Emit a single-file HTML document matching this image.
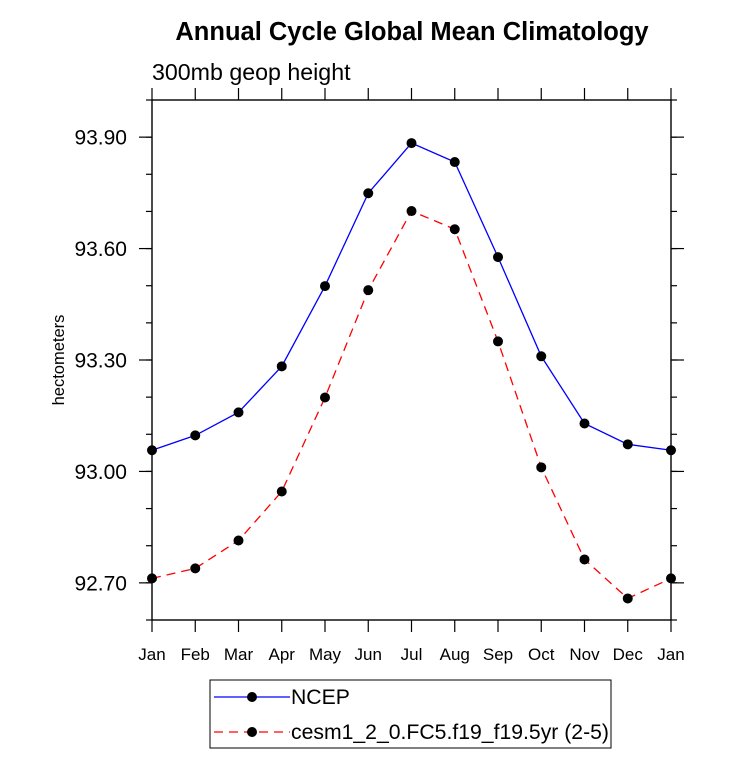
<!DOCTYPE html>
<html><head><meta charset="utf-8"><style>body{margin:0;background:#fff}svg{font-family:"Liberation Sans",sans-serif}</style></head>
<body>
<svg id="chart" width="733" height="770" xmlns="http://www.w3.org/2000/svg">
<text x="412" y="40" text-anchor="middle" font-size="25.5" font-weight="bold">Annual Cycle Global Mean Climatology</text>
<text x="152" y="80" font-size="23.2">300mb geop height</text>
<text transform="translate(64,360) rotate(-90)" text-anchor="middle" font-size="16.5">hectometers</text>
<g id="plot"></g>
<g>
<rect x="210" y="680" width="401" height="68" fill="none" stroke="#000" stroke-width="1"/>
<g><line x1="214" y1="697" x2="290" y2="697" stroke="#0000ff" stroke-width="1.2"/><circle cx="252" cy="697" r="5" fill="#000"/><text x="291" y="704" font-size="21.2">NCEP</text></g>
<g><line x1="214" y1="732" x2="290" y2="732" stroke="#ff0000" stroke-width="1.2" stroke-dasharray="9,6"/><circle cx="252" cy="732" r="5" fill="#000"/><text x="291" y="739" font-size="21.2">cesm1_2_0.FC5.f19_f19.5yr (2-5)</text></g>
</g>
</svg>
<script>
const months = ["Jan","Feb","Mar","Apr","May","Jun","Jul","Aug","Sep","Oct","Nov","Dec","Jan"];
const ncep = [93.057,93.097,93.159,93.283,93.499,93.749,93.884,93.833,93.577,93.310,93.129,93.073,93.057];
const cesm = [92.712,92.739,92.814,92.946,93.199,93.488,93.701,93.652,93.350,93.011,92.763,92.658,92.712];
const yTicks = [92.7,93.0,93.3,93.6,93.9];
const yTickLabels = ["92.70","93.00","93.30","93.60","93.90"];
const yMin = 92.6, yMax = 94.0;
const L=152,R=671,T=100,B=620;
const NS="http://www.w3.org/2000/svg";
const g=document.getElementById('plot');
function x(i){return L+(R-L)*i/(months.length-1);}
function y(v){return B-(v-yMin)/(yMax-yMin)*(B-T);}
function mk(t,a){const e=document.createElementNS(NS,t);for(const k in a)e.setAttribute(k,a[k]);g.appendChild(e);return e;}
function ln(x1,y1,x2,y2,w){return mk('line',{x1,y1,x2,y2,stroke:'#000','stroke-width':w||1.2});}
const frame=mk('rect',{x:L,y:T,width:R-L,height:B-T,fill:'none',stroke:'#000','stroke-width':1.4});


months.forEach((m,i)=>{
  ln(x(i),B,x(i),B+12);ln(x(i),T,x(i),T-12);
  const t=mk('text',{x:x(i),y:B+40,'text-anchor':'middle','font-size':17});t.textContent=m;
  
  
});
for(let v=yMin;v<=yMax+1e-6;v+=0.1){ln(L,y(v),L-6,y(v));ln(R,y(v),R+6,y(v));}
yTicks.forEach((v,i)=>{
  ln(L,y(v),L-13,y(v));ln(R,y(v),R+13,y(v));
  const t=mk('text',{x:L-25,y:y(v)+7.5,'text-anchor':'end','font-size':21});t.textContent=yTickLabels[i];
  
  
});
function series(d,col,dash,name){
  const p=mk('polyline',{points:d.map((v,i)=>x(i)+','+y(v)).join(' '),fill:'none',stroke:col,'stroke-width':1.3});
  if(dash)p.setAttribute('stroke-dasharray',dash);
  
  
  d.forEach((v,i)=>{const c=mk('circle',{cx:x(i),cy:y(v),r:5,fill:'#000'});
    
    });
}
series(ncep,'#0000ff',null,'ncep');
series(cesm,'#ff0000','9,6','cesm');
</script>
</body></html>
